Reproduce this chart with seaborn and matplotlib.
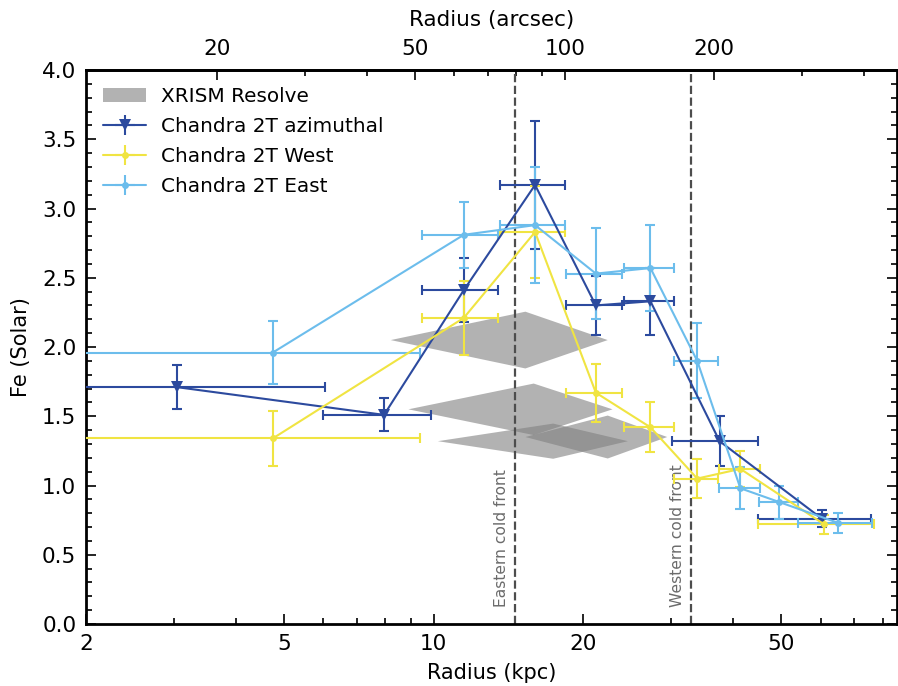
import numpy as np
import pandas as pd
import matplotlib
matplotlib.use("Agg")
import matplotlib.pyplot as plt
import seaborn as sns
from matplotlib.patches import Patch
from matplotlib.ticker import FixedLocator, FixedFormatter, NullFormatter

# ---------------- data ----------------
az_r = [3.05, 7.95, 11.5, 16.0, 21.2, 27.3, 37.6, 60.4]
az_rerr = [3.0, 1.95, 2.0, 2.4, 2.7, 3.2, 7.4, 15.5]
az_fe = [1.71, 1.51, 2.41, 3.17, 2.30, 2.33, 1.32, 0.76]
az_feerr = [0.16, 0.12, 0.23, 0.46, 0.21, 0.24, 0.18, 0.06]

w_r = [4.75, 11.5, 16.0, 21.2, 27.3, 33.9, 41.4, 61.0]
w_rerr = [4.65, 2.0, 2.4, 2.7, 3.2, 3.5, 3.9, 16.0]
w_fe = [1.34, 2.21, 2.83, 1.67, 1.42, 1.05, 1.12, 0.72]
w_feerr = [0.20, 0.27, 0.33, 0.21, 0.18, 0.14, 0.13, 0.07]

e_r = [4.75, 11.5, 16.0, 21.2, 27.3, 33.9, 41.4, 49.6, 65.1]
e_rerr = [4.65, 2.0, 2.4, 2.7, 3.2, 3.5, 3.9, 4.4, 11.0]
e_fe = [1.96, 2.81, 2.88, 2.53, 2.57, 1.90, 0.98, 0.88, 0.73]
e_feerr = [0.23, 0.24, 0.42, 0.33, 0.31, 0.27, 0.15, 0.12, 0.07]

# XRISM Resolve diamonds: centre radius, half-width, centre Fe, half-height
xr_r = [15.3, 15.9, 17.4, 22.4]
xr_rerr = [7.1, 7.0, 7.2, 7.1]
xr_fe = [2.05, 1.55, 1.32, 1.35]
xr_feerr = [0.205, 0.186, 0.127, 0.155]

front_r = [14.6, 33.0]
front_lbl = ["Eastern cold front", "Western cold front"]

top_major = [20, 50, 100, 200]
top_minor = [30, 40, 60, 70, 80, 90, 300, 400]
bot_major = [2, 5, 10, 20, 50]
KPC_PER_ARCSEC = 0.1835

c_az = "#2c4a9e"
c_w = "#f0e442"
c_e = "#6cbdec"

# ---------------- figure ----------------
sns.set_theme(style="ticks")
plt.rcParams["font.family"] = ["DejaVu Sans"]
for k in ["text.color", "axes.labelcolor", "xtick.color", "ytick.color",
          "axes.edgecolor"]:
    plt.rcParams[k] = "black"

fig = plt.figure(figsize=(8.98, 6.86), dpi=100)
ax = fig.add_axes([86 / 898, 62 / 686, (897 - 86) / 898, (624 - 70) / 686])

# XRISM diamonds
for i, (r, dr, f, df) in enumerate(zip(xr_r, xr_rerr, xr_fe, xr_feerr)):
    ax.fill([r - dr, r, r + dr, r], [f, f + df, f, f - df],
            color="gray", alpha=0.6, lw=0, zorder=1)

# vertical fronts
for r, lbl in zip(front_r, front_lbl):
    ax.axvline(r, color="0.3", ls="--", lw=1.6, zorder=2)
    ax.text(r * 0.972, 0.125, lbl, rotation=90, ha="right", va="bottom",
            fontsize=11.2, color="0.42", zorder=2)

series = [
    ("Chandra 2T azimuthal", az_r, az_rerr, az_fe, az_feerr, c_az, "v", 8),
    ("Chandra 2T West", w_r, w_rerr, w_fe, w_feerr, c_w, "o", 5),
    ("Chandra 2T East", e_r, e_rerr, e_fe, e_feerr, c_e, "o", 5),
]

for lbl, r, dr, f, df, c, m, ms in series:
    df_ = pd.DataFrame({"r": r, "fe": f})
    sns.lineplot(data=df_, x="r", y="fe", ax=ax, color=c, marker=m,
                 markersize=ms, markeredgewidth=0, lw=1.5, sort=False,
                 estimator=None, legend=False, zorder=4)
    ax.errorbar(r, f, xerr=dr, yerr=df, fmt="none", ecolor=c, elinewidth=1.5,
                capsize=3.5, capthick=1.5, zorder=3)

# legend proxies
handles = [Patch(facecolor="gray", alpha=0.6, lw=0, label="XRISM Resolve")]
for lbl, r, dr, f, df, c, m, ms in series:
    h = ax.errorbar([np.nan], [np.nan], xerr=[1], yerr=[1], fmt="-" + m, color=c,
                    ms=ms, mew=0, lw=1.5, elinewidth=1.5, capsize=3.5,
                    capthick=1.5, label=lbl)
    handles.append(h)
ax.legend(handles=handles, loc="upper left", frameon=False, fontsize=14.4,
          handlelength=2.15, handletextpad=0.75, borderaxespad=0.5,
          borderpad=0.35, labelspacing=0.55)

ax.set_xscale("log")
ax.set_xlim(2, 85.5)
ax.set_ylim(0, 4)
ax.xaxis.set_major_locator(FixedLocator(bot_major))
ax.xaxis.set_major_formatter(FixedFormatter([str(v) for v in bot_major]))
ax.xaxis.set_minor_formatter(NullFormatter())
ax.set_yticks(np.arange(0, 4.01, 0.5))
ax.set_yticks(np.arange(0, 4.01, 0.1), minor=True)
ax.set_xlabel("Radius (kpc)", fontsize=15, labelpad=7)
ax.set_ylabel("Fe (Solar)", fontsize=15, labelpad=8)
ax.tick_params(which="both", direction="in", right=True, top=False,
               labelsize=15.5, width=1.2, pad=7)
ax.tick_params(which="major", length=7.5)
ax.tick_params(which="minor", length=4.3)
for s in ax.spines.values():
    s.set_linewidth(2.0)

sec = ax.secondary_xaxis("top", functions=(lambda x: x / KPC_PER_ARCSEC,
                                           lambda a: a * KPC_PER_ARCSEC))
sec.xaxis.set_major_locator(FixedLocator(top_major))
sec.xaxis.set_major_formatter(FixedFormatter([str(v) for v in top_major]))
sec.xaxis.set_minor_locator(FixedLocator(top_minor))
sec.xaxis.set_minor_formatter(NullFormatter())
sec.tick_params(which="both", direction="in", labelsize=15.5, width=1.2, pad=8)
sec.tick_params(which="major", length=7.5)
sec.tick_params(which="minor", length=4.3)
sec.set_xlabel("Radius (arcsec)", fontsize=15.5, labelpad=9)
sec.spines["top"].set_linewidth(2.0)

fig.savefig("out.png", dpi=100)
